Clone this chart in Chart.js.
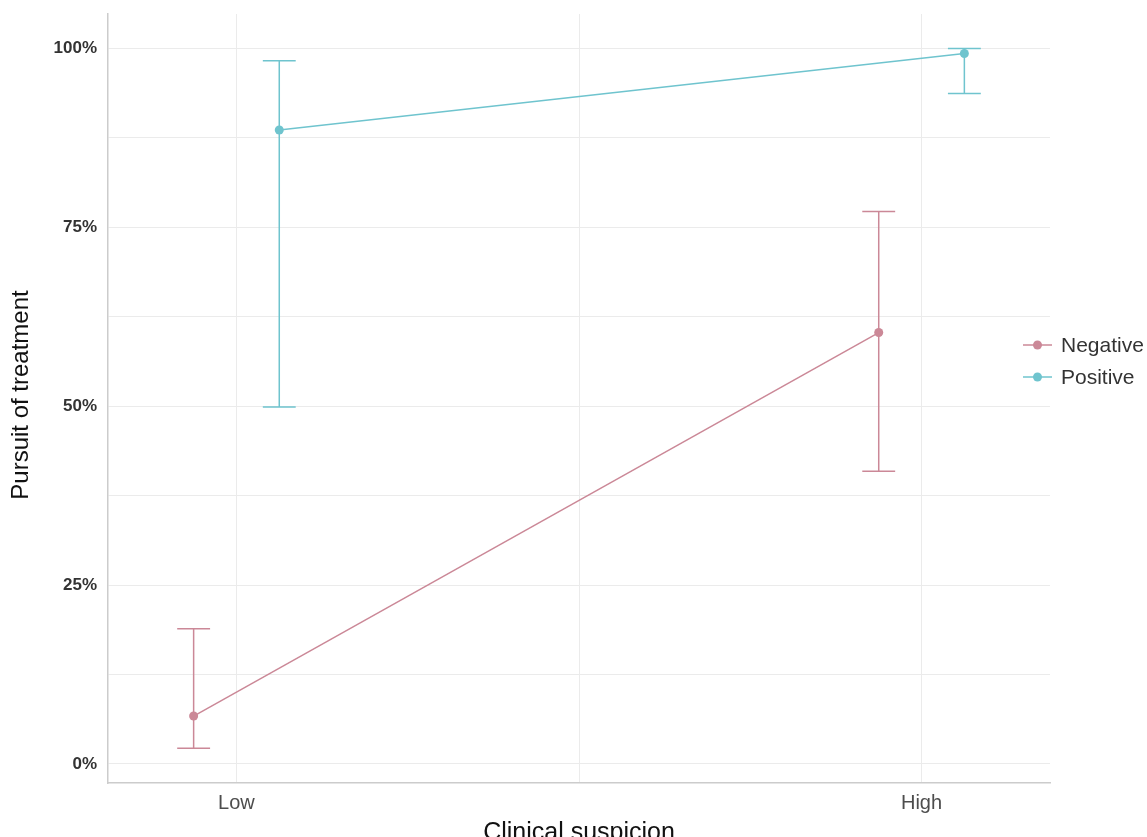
<!DOCTYPE html>
<html>
<head>
<meta charset="utf-8">
<script src="https://cdn.jsdelivr.net/npm/chart.js@4/dist/chart.umd.min.js"></script>
<style>
html,body{margin:0;padding:0;background:#fff;}
#wrap{width:1147px;height:837px;position:relative;}
</style>
</head>
<body>
<div id="wrap"><canvas id="c" width="1147" height="837"></canvas></div>
<script>
// ---- data ----
const categories = ['Low', 'High'];
const seriesNames = ['Negative', 'Positive'];
const negativeValues = [6.7, 60.3];
const negativeLower = [2.2, 40.9];
const negativeUpper = [18.9, 77.2];
const positiveValues = [88.6, 99.3];
const positiveLower = [49.9, 93.7];
const positiveUpper = [98.3, 100];
const yTickValues = [0, 25, 50, 75, 100];
const yTickLabels = ['0%', '25%', '50%', '75%', '100%'];

const colors = ['#CB8897', '#6FC4CE'];
const dodge = 0.0625;
const capHalf = 0.024;
const FONT = '"Liberation Sans", Arial, sans-serif';

function pts(vals, lo, hi, offset) {
  return vals.map((v, i) => ({x: i + 1 + offset, y: v, lo: lo[i], hi: hi[i]}));
}

const datasets = [
  {label: seriesNames[0], data: pts(negativeValues, negativeLower, negativeUpper, -dodge)},
  {label: seriesNames[1], data: pts(positiveValues, positiveLower, positiveUpper, dodge)}
].map((d, i) => Object.assign(d, {
  borderColor: colors[i], backgroundColor: colors[i], borderWidth: 1.5,
  pointRadius: 4.5, pointHoverRadius: 4.5, pointBorderWidth: 0, tension: 0
}));

const errorBars = {
  id: 'errorBars',
  beforeDatasetsDraw(chart) {
    const ctx = chart.ctx, xs = chart.scales.x, ys = chart.scales.y;
    chart.data.datasets.forEach((ds, i) => {
      ctx.save();
      ctx.strokeStyle = colors[i];
      ctx.lineWidth = 1.5;
      ds.data.forEach(p => {
        const x = xs.getPixelForValue(p.x);
        const xl = xs.getPixelForValue(p.x - capHalf);
        const xr = xs.getPixelForValue(p.x + capHalf);
        const yl = ys.getPixelForValue(p.lo), yh = ys.getPixelForValue(p.hi);
        ctx.beginPath();
        ctx.moveTo(x, yl); ctx.lineTo(x, yh);
        ctx.moveTo(xl, yl); ctx.lineTo(xr, yl);
        ctx.moveTo(xl, yh); ctx.lineTo(xr, yh);
        ctx.stroke();
      });
      ctx.restore();
    });
  }
};

const extras = {
  id: 'extras',
  afterDraw(chart) {
    const ctx = chart.ctx, a = chart.chartArea;
    ctx.save();
    // axis titles
    ctx.fillStyle = '#111';
    ctx.font = '25px ' + FONT;
    ctx.textAlign = 'center';
    ctx.textBaseline = 'alphabetic';
    ctx.fillText('Clinical suspicion', (a.left + a.right) / 2, 840);
    ctx.save();
    ctx.translate(21, 395);
    ctx.rotate(-Math.PI / 2);
    ctx.font = '24px ' + FONT;
    ctx.textBaseline = 'middle';
    ctx.fillText('Pursuit of treatment', 0, 0);
    ctx.restore();
    // legend
    const ly = [345, 377];
    seriesNames.forEach((name, i) => {
      ctx.strokeStyle = colors[i];
      ctx.fillStyle = colors[i];
      ctx.lineWidth = 1.5;
      ctx.beginPath();
      ctx.moveTo(1023, ly[i]); ctx.lineTo(1052, ly[i]);
      ctx.stroke();
      ctx.beginPath();
      ctx.arc(1037.5, ly[i], 4.5, 0, Math.PI * 2);
      ctx.fill();
      ctx.fillStyle = '#333';
      ctx.font = '21px ' + FONT;
      ctx.textAlign = 'left';
      ctx.textBaseline = 'middle';
      ctx.fillText(name, 1061, ly[i] + 1);
    });
    ctx.restore();
  }
};

new Chart(document.getElementById('c'), {
  type: 'line',
  data: {datasets},
  plugins: [errorBars, extras],
  options: {
    responsive: false,
    animation: false,
    events: [],
    layout: {padding: {top: 14, right: 97, left: 0, bottom: 0}},
    plugins: {legend: {display: false}, tooltip: {enabled: false}},
    scales: {
      x: {
        type: 'linear', min: 0.8125, max: 2.1875,
        afterBuildTicks: s => { s.ticks = [1, 1.5, 2].map(v => ({value: v})); },
        afterFit: s => { s.height = 54; s.paddingLeft = 0; s.paddingRight = 0; },
        ticks: {
          callback: v => (v === 1 ? categories[0] : v === 2 ? categories[1] : ''),
          font: {family: FONT, size: 20}, color: '#4d4d4d', padding: 8, maxRotation: 0, autoSkip: false
        },
        grid: {color: '#ebebeb', lineWidth: 1, drawTicks: false},
        border: {display: true, color: '#cccccc', width: 1.5}
      },
      y: {
        type: 'linear', min: -2.66, max: 104.82,
        afterBuildTicks: s => { s.ticks = [0, 12.5, 25, 37.5, 50, 62.5, 75, 87.5, 100].map(v => ({value: v})); },
        afterFit: s => { s.width = 108; s.paddingTop = 0; s.paddingBottom = 0; },
        ticks: {
          callback: v => { const k = yTickValues.indexOf(v); return k >= 0 ? yTickLabels[k] : ''; },
          font: {family: FONT, size: 17, weight: 'bold'}, color: '#333', padding: 11, autoSkip: false
        },
        grid: {color: '#ebebeb', lineWidth: 1, drawTicks: false},
        border: {display: true, color: '#cccccc', width: 1.5}
      }
    }
  }
});
</script>
</body>
</html>
